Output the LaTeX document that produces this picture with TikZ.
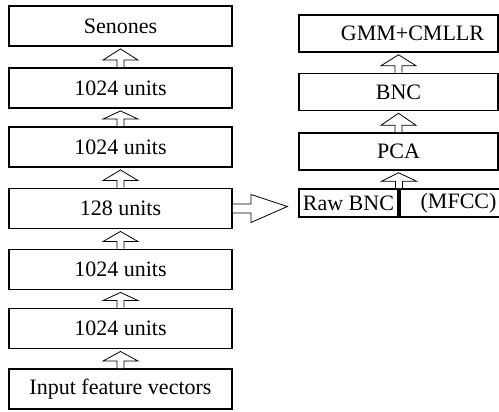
\documentclass[tikz,border=0pt]{standalone}
\usepackage{fontspec}
\setmainfont{Liberation Serif}
\usetikzlibrary{calc}
\tikzset{
  layer/.style={draw, line width=1.9pt, minimum width=223pt, minimum height=40pt,
    inner sep=0pt, font=\fontsize{22}{24}\selectfont},
  stage/.style={draw, line width=1.5pt, minimum width=199pt, minimum height=37pt,
    inner sep=0pt, font=\fontsize{22}{24}\selectfont},
  half/.style={draw, line width=1.6pt, minimum width=99.5pt, minimum height=28pt,
    inner sep=0pt, font=\fontsize{22}{24}\selectfont},
  hollow/.style={draw, line width=0.8pt, fill=white, line join=miter}
}
% hollow upward arrow from node #1 (below) to node #2 (above)
\newcommand{\uparr}[2]{%
  \draw[hollow] ($(#1.north)+(-3.5,0)$) -- ++(0,7) -- ++(-14,0)
    -- ($(#2.south)+(0,-2)$) -- ($(#1.north)+(17.5,7)$) -- ++(-14,0)
    -- ($(#1.north)+(3.5,0)$);}
\begin{document}
\begin{tikzpicture}[x=1pt,y=1pt]
\useasboundingbox (0,0) rectangle (499,-412);
% DNN stack
\node[layer] (l1) at (120.5,-26) {Senones};
\node[layer] (l2) at (120.5,-88) {1024 units};
\node[layer] (l3) at (120.5,-147) {1024 units};
\node[layer] (l4) at (120.5,-208.5) {128 units};
\node[layer] (l5) at (120.5,-269.5) {1024 units};
\node[layer] (l6) at (120.5,-328.5) {1024 units};
\node[layer] (l7) at (120.5,-389) {Input feature vectors};
% back-end
\node[stage] (gmm) at (398.5,-33.5) {\hspace*{28pt}GMM+CMLLR};
\node[stage] (bnc) at (398.5,-92) {BNC};
\node[stage] (pca) at (398.5,-151.5) {PCA};
\node[half, anchor=east] (raw) at (399,-203) {Raw BNC};
\node[half, anchor=west] (mfcc) at (399,-203) {\hspace*{18pt}(MFCC)};
% arrows between layers
\uparr{l2}{l1}
\uparr{l3}{l2}
\uparr{l4}{l3}
\uparr{l5}{l4}
\uparr{l6}{l5}
\uparr{l7}{l6}
\uparr{bnc}{gmm}
\uparr{pca}{bnc}
\coordinate (rawtop) at (raw.north east);
\draw[hollow] ($(rawtop)+(-3.5,0)$) -- ++(0,7) -- ++(-14,0)
  -- ($(pca.south)+(0,-2)$) -- ($(rawtop)+(17.5,7)$) -- ++(-14,0)
  -- ($(rawtop)+(3.5,0)$);
% bottleneck features fed to the back-end
\draw[hollow] ($(l4.east)+(0,4.5)$) -- ++(18,0) -- ++(0,9.5)
  -- ($(l4.east)+(54.5,2)$) -- ($(l4.east)+(18,-14)$) -- ++(0,9.5)
  -- ($(l4.east)+(0,-4.5)$);
\end{tikzpicture}
\end{document}
